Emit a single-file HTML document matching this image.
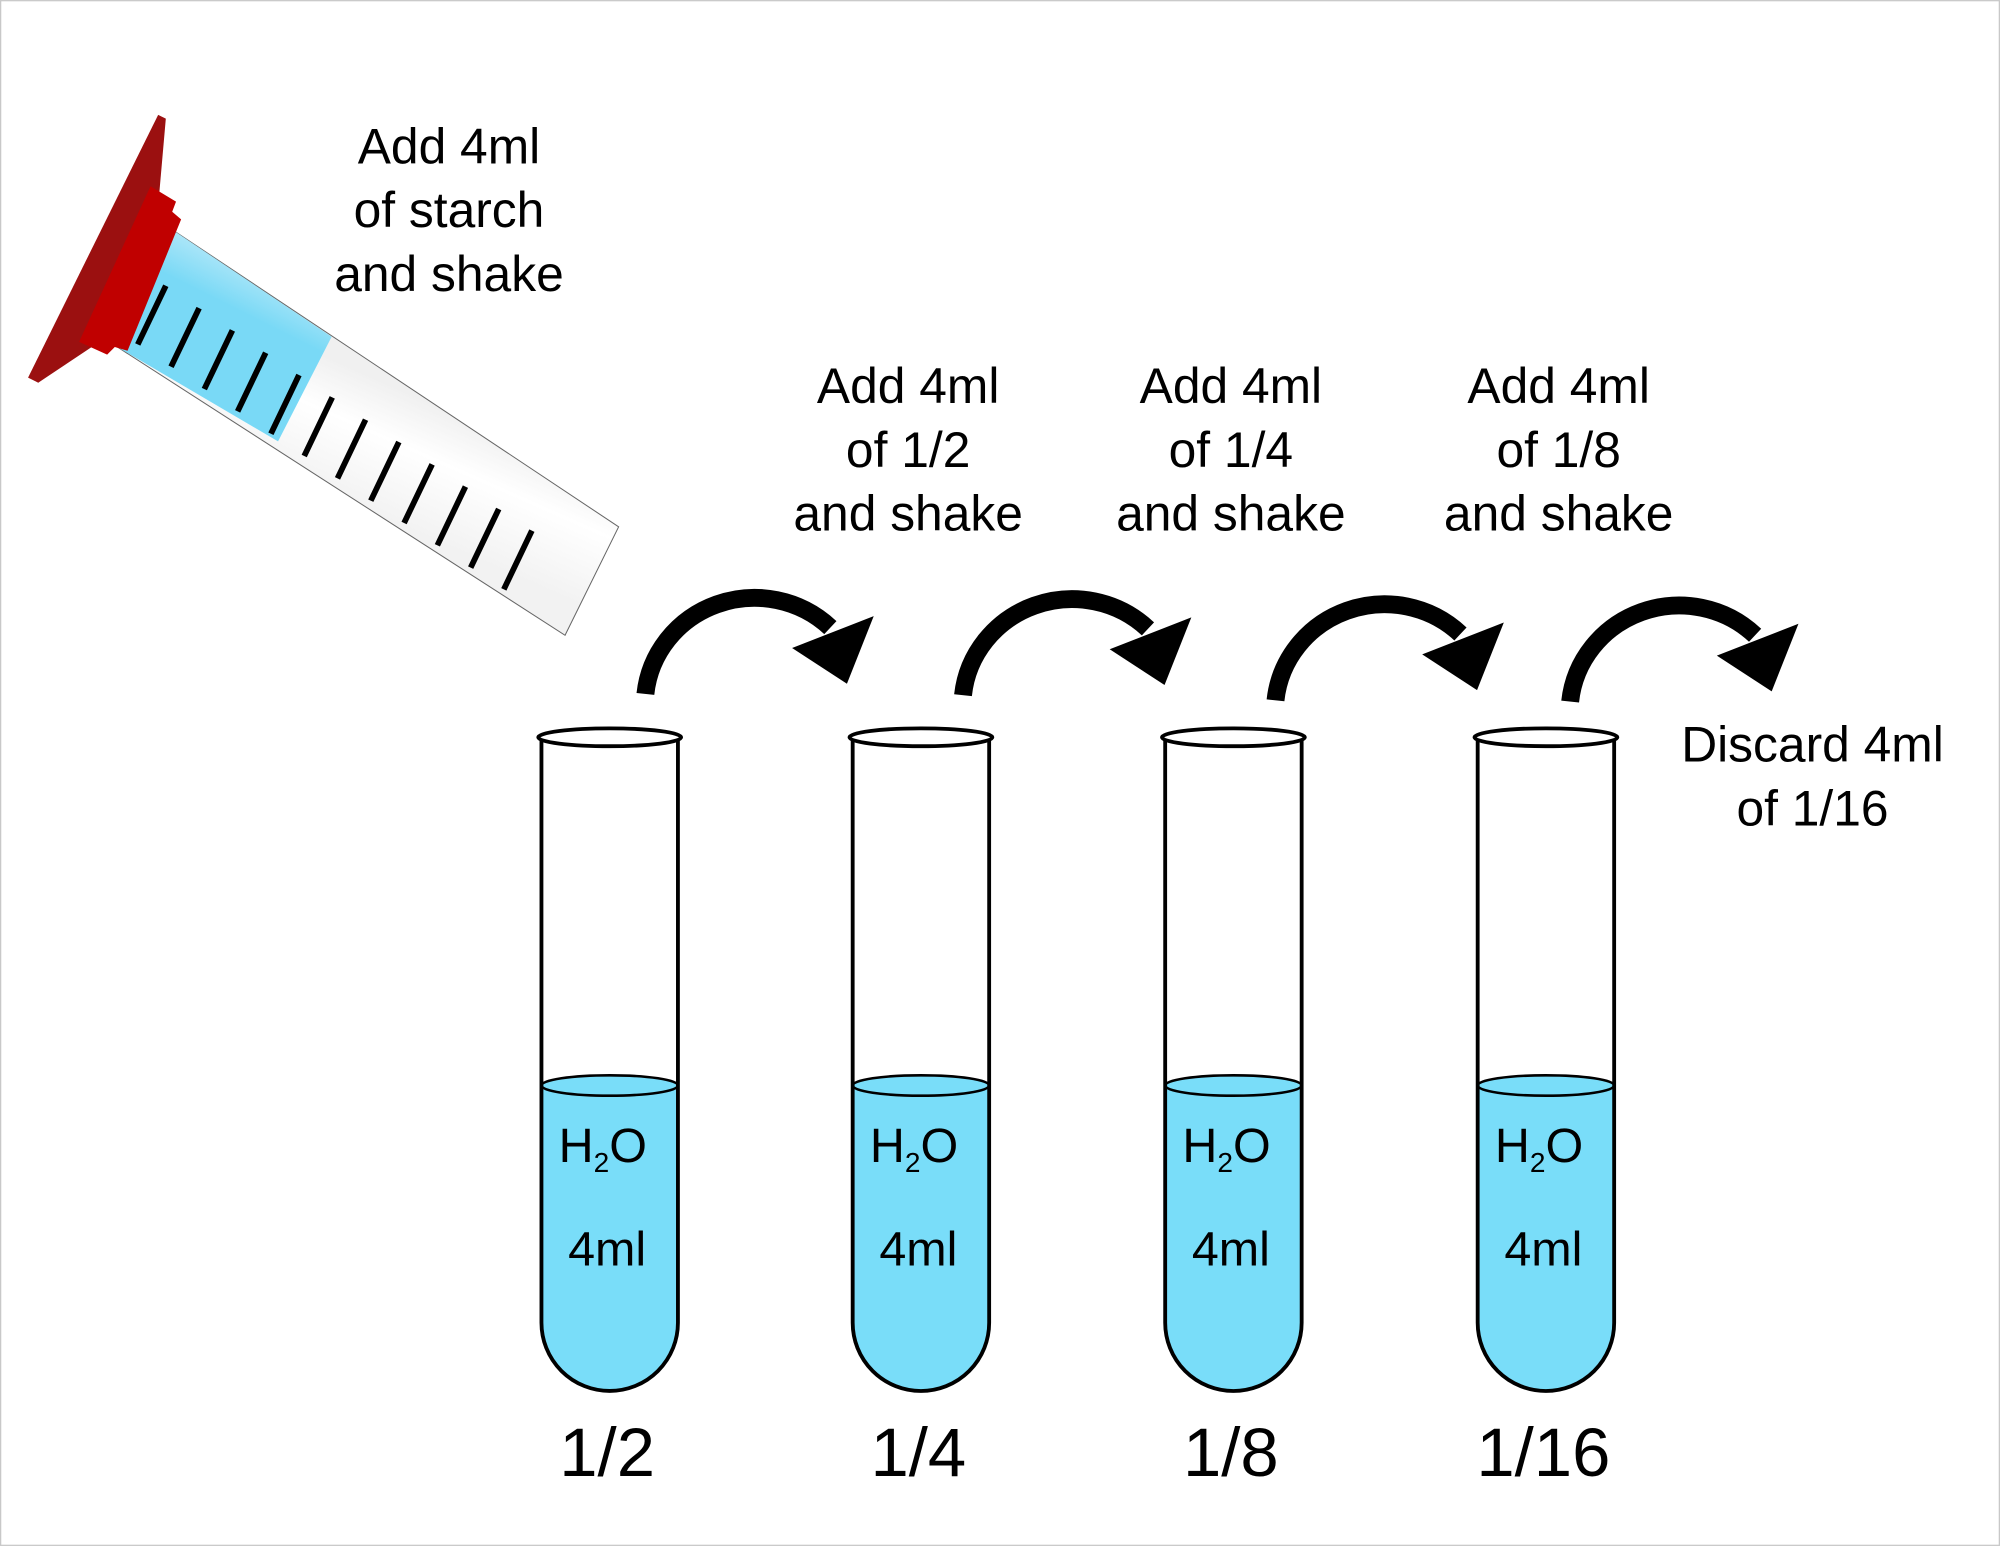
<!DOCTYPE html>
<html><head><meta charset="utf-8"><style>
html,body{margin:0;padding:0;background:#fff}
svg{display:block}
text{font-family:"Liberation Sans","DejaVu Sans",sans-serif;fill:#000}
</style></head><body>
<svg width="2000" height="1546" viewBox="0 0 1568 1212" xmlns="http://www.w3.org/2000/svg">
<defs>
<linearGradient id="blueg" gradientUnits="userSpaceOnUse" x1="300" y1="200" x2="260" y2="280">
<stop offset="0" stop-color="#7fd7f0"/><stop offset="0.45" stop-color="#c4ecf9"/><stop offset="1" stop-color="#79d9f6"/></linearGradient>
<linearGradient id="whiteg" gradientUnits="userSpaceOnUse" x1="370" y1="330" x2="330" y2="420">
<stop offset="0" stop-color="#f0f0f0"/><stop offset="0.4" stop-color="#ffffff"/><stop offset="1" stop-color="#f2f2f2"/></linearGradient>
</defs>
<rect x="0.5" y="0.5" width="1567" height="1211" fill="#fff" stroke="#c8c8c8"/>

<g>
<polygon points="135,180 485,413 443,498 92,272" fill="url(#whiteg)" stroke="#666" stroke-width="0.8"/>
<polygon points="135,180 260,264 218,346 92,272" fill="url(#blueg)"/>
<polygon points="22,296 124,90 130,93 125,150 75,270 30,300" fill="#9b1010"/>
<polygon points="118,146 138,158 135,166 142,172 100,275 90,272 84,278 62,268" fill="#c00000"/>
<g stroke="#000" stroke-width="4.5" stroke-linecap="butt">
<line x1="108" y1="270" x2="130" y2="224"/><line x1="134.1" y1="287.5" x2="156.1" y2="241.5"/>
<line x1="160.2" y1="305" x2="182.2" y2="259"/><line x1="186.3" y1="322.5" x2="208.3" y2="276.5"/>
<line x1="212.4" y1="340" x2="234.4" y2="294"/><line x1="238.5" y1="357.5" x2="260.5" y2="311.5"/>
<line x1="264.6" y1="375" x2="286.6" y2="329"/><line x1="290.7" y1="392.5" x2="312.7" y2="346.5"/>
<line x1="316.8" y1="410" x2="338.8" y2="364"/><line x1="342.9" y1="427.5" x2="364.9" y2="381.5"/>
<line x1="369" y1="445" x2="391" y2="399"/><line x1="395" y1="462" x2="417" y2="416"/>
</g>
</g>

<g font-size="39" text-anchor="middle">
<text x="352" y="128"><tspan x="352">Add 4ml</tspan><tspan x="352" dy="50">of starch</tspan><tspan x="352" dy="50">and shake</tspan></text>
<text x="712" y="316"><tspan x="712">Add 4ml</tspan><tspan x="712" dy="50">of 1/2</tspan><tspan x="712" dy="50">and shake</tspan></text>
<text x="965" y="316"><tspan x="965">Add 4ml</tspan><tspan x="965" dy="50">of 1/4</tspan><tspan x="965" dy="50">and shake</tspan></text>
<text x="1222" y="316"><tspan x="1222">Add 4ml</tspan><tspan x="1222" dy="50">of 1/8</tspan><tspan x="1222" dy="50">and shake</tspan></text>
<text x="1421" y="597"><tspan x="1421">Discard 4ml</tspan><tspan x="1421" dy="50">of 1/16</tspan></text>
</g>

<g>
<g>
<path d="M506,544 A86,84 0 0 1 651,492" fill="none" stroke="#000" stroke-width="14"/>
<polygon points="621,508 685,483 664,536" fill="#000"/></g>
<g transform="translate(249,1)">
<path d="M506,544 A86,84 0 0 1 651,492" fill="none" stroke="#000" stroke-width="14"/>
<polygon points="621,508 685,483 664,536" fill="#000"/></g>
<g transform="translate(494,5)">
<path d="M506,544 A86,84 0 0 1 651,492" fill="none" stroke="#000" stroke-width="14"/>
<polygon points="621,508 685,483 664,536" fill="#000"/></g>
<g transform="translate(725,6)">
<path d="M506,544 A86,84 0 0 1 651,492" fill="none" stroke="#000" stroke-width="14"/>
<polygon points="621,508 685,483 664,536" fill="#000"/></g>
</g>

<g id="tubes"></g>
</svg>
<script>
const tubeCenters=[478,722,967,1212];
const tubeLabels=['1/2','1/4','1/8','1/16'];
const NS='http://www.w3.org/2000/svg';
const g=document.getElementById('tubes');
function mk(tag,attrs,parent){const e=document.createElementNS(NS,tag);for(const k in attrs)e.setAttribute(k,attrs[k]);parent.appendChild(e);return e;}
tubeCenters.forEach((cx,i)=>{
 const t=mk('g',{},g);
 
 
 const l=cx-53.5,r=cx+53.5;
 const liq=mk('path',{d:`M${l},851 L${l},1037 A53.5,53.5 0 0 0 ${r},1037 L${r},851 Z`,fill:'#79ddf9'},t);
 
 
 const sur=mk('ellipse',{cx:cx,cy:851,rx:53.5,ry:8,fill:'#79ddf9',stroke:'#000','stroke-width':2},t);
 
 
 const body=mk('path',{d:`M${l},578 L${l},1037 A53.5,53.5 0 0 0 ${r},1037 L${r},578`,fill:'none',stroke:'#000','stroke-width':3},t);
 
 
 const rim=mk('ellipse',{cx:cx,cy:578,rx:56,ry:7,fill:'#fff',stroke:'#000','stroke-width':3},t);
 
 
 const h=mk('text',{x:cx-40,y:911,'font-size':38},t);
 
 
 h.innerHTML='H<tspan font-size="22" dy="8">2</tspan><tspan dy="-8">O</tspan>';
 const m=mk('text',{x:cx-2,y:992,'font-size':38,'text-anchor':'middle'},t);
 
 
 m.textContent='4ml';
 const d=mk('text',{x:cx-2,y:1157,'font-size':54,'text-anchor':'middle'},t);
 
 
 d.textContent=tubeLabels[i];
});
</script>
</body></html>
